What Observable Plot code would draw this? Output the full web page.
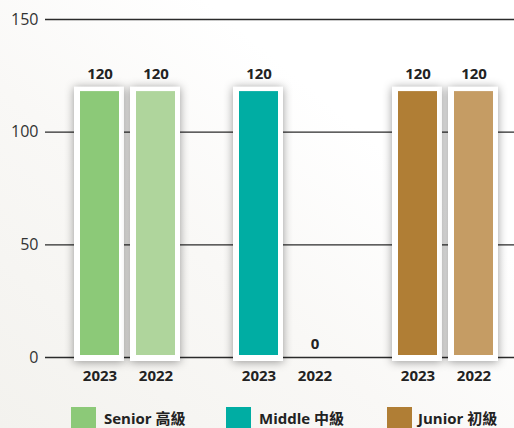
<!DOCTYPE html>
<html><head><meta charset="utf-8">
<script src="https://cdn.jsdelivr.net/npm/d3@7"></script>
<script src="https://cdn.jsdelivr.net/npm/@observablehq/plot@0.6"></script>
<style>
html,body{margin:0;padding:0;width:514px;height:428px;overflow:hidden;}
body{position:relative;background:linear-gradient(to top right,#f3f2ee 0%,#f9f8f6 40%,#ffffff 70%);font-family:"Open Sans","Noto Sans CJK TC",sans-serif;}
g[fill="white"] rect{filter:drop-shadow(0 1px 5px rgba(0,0,0,0.4));}
.lg{position:absolute;top:407px;width:25px;height:25px;}
.lt{position:absolute;top:406px;font-weight:700;font-size:15px;color:#222;line-height:24px;white-space:nowrap;}
</style>
</head><body>
<div id="chart"></div>
<script>
const groups = ["Senior 高級", "Middle 中級", "Junior 初級"];
const years = ["2023", "2022"];
const values2023 = [120, 120, 120];
const values2022 = [120, 0, 120];
const colors2023 = ["#8cc978", "#00ada3", "#b07e35"];
const colors2022 = ["#afd59c", "#00ada3", "#c59c64"];
const yTicks = [0, 50, 100, 150];

const d2023 = groups.map((g, i) => ({group: g, year: years[0], value: values2023[i], color: colors2023[i]}));
const d2022 = groups.map((g, i) => ({group: g, year: years[1], value: values2022[i], color: colors2022[i]}));
const nz = d => d.filter(r => r.value > 0);

const chart = Plot.plot({
  width: 514,
  height: 397,
  marginLeft: 60,
  marginRight: 0,
  marginTop: 19,
  marginBottom: 40,
  style: {background: "transparent", color: "#333", fontSize: "15px", fontFamily: "'Open Sans','Noto Sans CJK TC',sans-serif"},
  x: {type: "band", domain: groups, paddingInner: 0.3, paddingOuter: 0.06875, axis: null},
  y: {domain: [0, 150], label: null},
  marks: [
    Plot.axisY({ticks: yTicks, tickSize: 0, tickPadding: 22, fontSize: 16, label: null}),
    Plot.ruleY(yTicks, {stroke: "#2b2b2b", strokeWidth: 1.4, insetLeft: -15}),
    Plot.rectY(nz(d2023), {x: "group", y: "value", fill: "white", insetLeft: 2, insetRight: 59, insetBottom: -4}),
    Plot.rectY(nz(d2022), {x: "group", y: "value", fill: "white", insetLeft: 58, insetRight: 3, insetBottom: -4}),
    Plot.rectY(nz(d2023), {x: "group", y: "value", fill: "color", insetLeft: 8, insetRight: 64, insetTop: 4.5, insetBottom: 2}),
    Plot.rectY(nz(d2022), {x: "group", y: "value", fill: "color", insetLeft: 64, insetRight: 8, insetTop: 4.5, insetBottom: 2}),
    Plot.text(d2023, {x: "group", y: "value", text: d => String(d.value), dx: -28, dy: -13, fontWeight: "bold", fill: "#222"}),
    Plot.text(d2022, {x: "group", y: "value", text: d => String(d.value), dx: 28, dy: -13, fontWeight: "bold", fill: "#222"}),
    Plot.text(d2023, {x: "group", y: () => 0, text: "year", dx: -28, dy: 19, fontWeight: "bold", fill: "#222"}),
    Plot.text(d2022, {x: "group", y: () => 0, text: "year", dx: 28, dy: 19, fontWeight: "bold", fill: "#222"})
  ]
});
document.getElementById("chart").appendChild(chart);

const legendPos = [[71, 104], [226, 259], [387, 418]];
groups.forEach((g, i) => {
  const sq = document.createElement("div");
  sq.className = "lg";
  sq.style.left = legendPos[i][0] + "px";
  sq.style.background = colors2023[i];
  document.body.appendChild(sq);
  const t = document.createElement("div");
  t.className = "lt";
  t.style.left = legendPos[i][1] + "px";
  t.textContent = g;
  document.body.appendChild(t);
});
</script>
</body></html>
